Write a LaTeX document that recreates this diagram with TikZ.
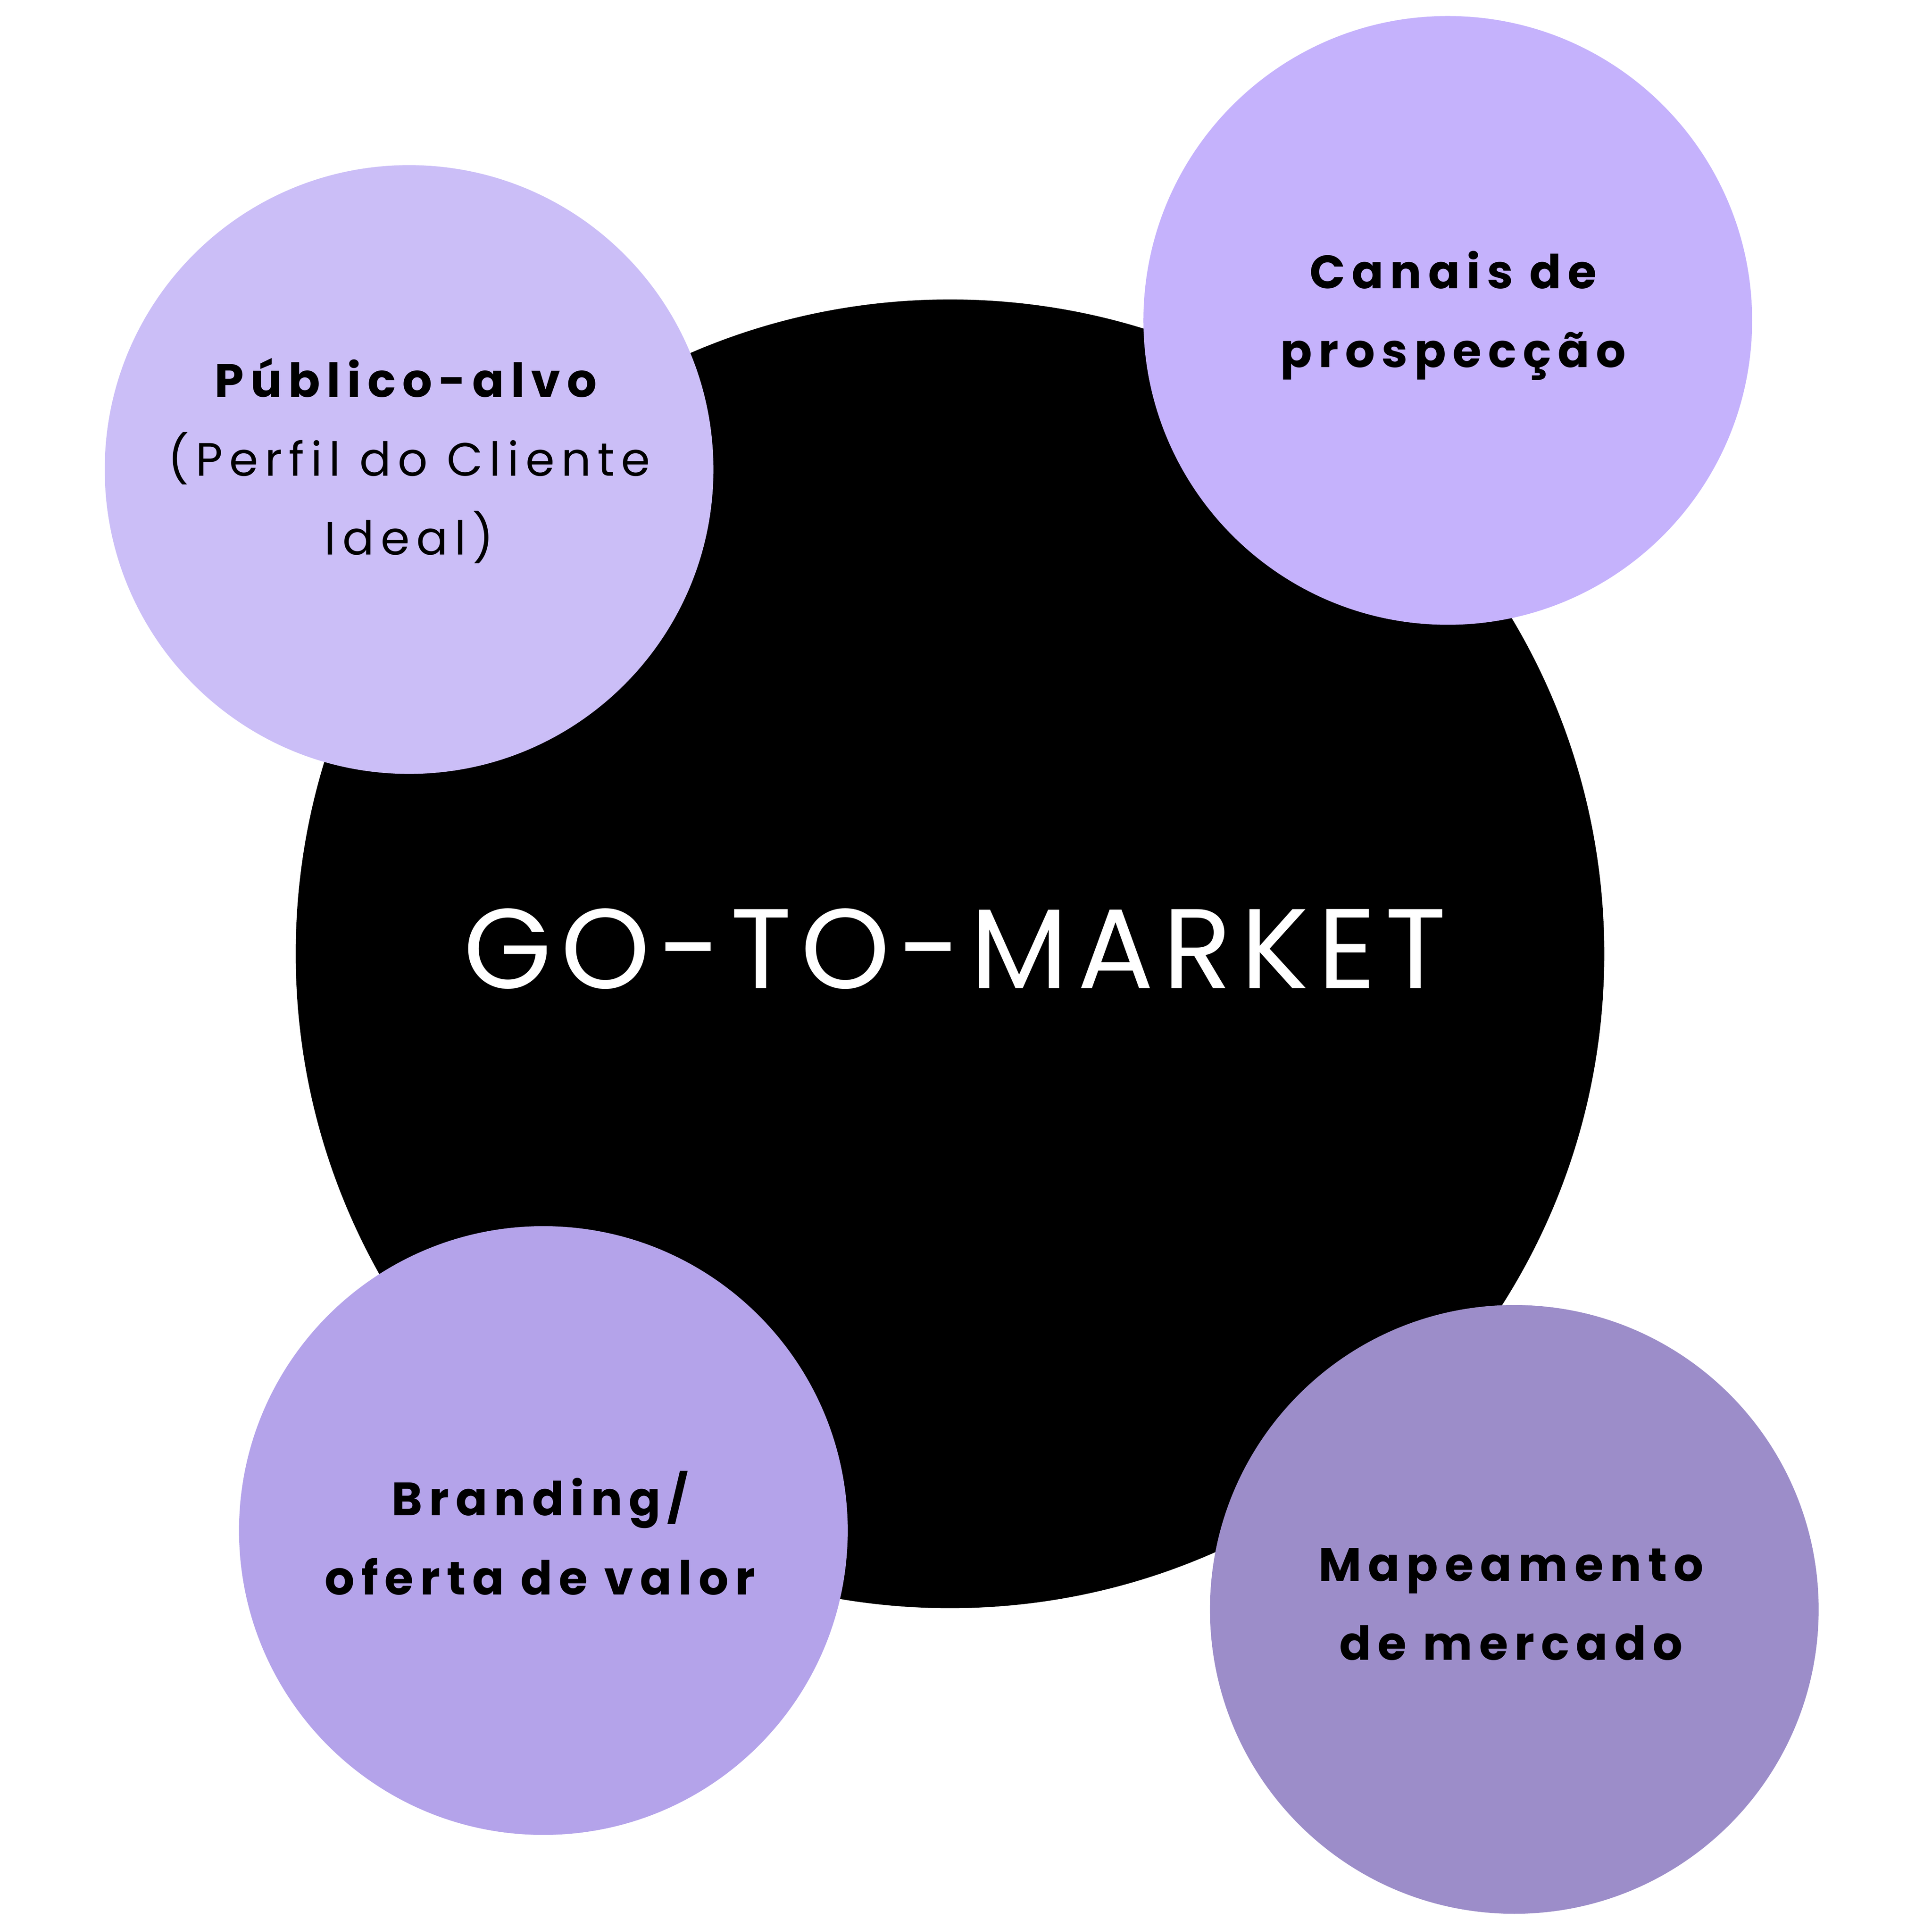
\documentclass[tikz,border=0pt]{standalone}
\usepackage{fontspec}
\setmainfont{Poppins}
\newfontfamily\gtmlabel[LetterSpace=14]{Poppins}
\newfontfamily\gtmtitle[LetterSpace=8]{Poppins}
\definecolor{publico color}{HTML}{CBBEF7}
\definecolor{canais color}{HTML}{C5B2FC}
\definecolor{branding color}{HTML}{B4A3EA}
\definecolor{mapa color}{HTML}{9C8DC9}
\tikzset{
    x={1pt},
    y={-1pt},
    core circle/.style={
        circle, fill=black,
        minimum size={1062},
        inner sep=0pt,
    },
    topic circle/.style={
        circle, fill={#1},
        minimum size={494},
        inner sep=0pt,
    },
    topic text/.style={
        align=center,
        font={\gtmlabel\fontsize{38}{64}\selectfont},
    },
}
\begin{document}
\begin{tikzpicture}
% canvas
\useasboundingbox (0,0) rectangle (1568,1564.5);
\fill[white] (0,0) rectangle (1568,1564.5);
% core
\node[core circle] (core) at (771,774) {};
\node[font={\gtmtitle\fontsize{92}{110}\selectfont\color{white}}] (title) at (775,770) {GO-TO-MARKET};
% topics
\node[topic circle={publico color}] (publico) at (332,381) {};
\node[topic circle={canais color}] (canais) at (1175,260) {};
\node[topic circle={branding color}] (branding) at (441,1242) {};
\node[topic circle={mapa color}] (mapa) at (1229,1306) {};
% labels
\node[topic text] (publico text) at (332,374) {\textbf{Público-alvo}\\(Perfil do Cliente\\Ideal)};
\node[topic text] (canais text) at (1182,256) {\textbf{Canais de}\\\textbf{prospecção}};
\node[topic text] (branding text) at (441,1244) {\textbf{Branding/}\\\textbf{oferta de valor}};
\node[topic text] (mapa text) at (1229,1302) {\textbf{Mapeamento}\\\textbf{de mercado}};
\end{tikzpicture}
\end{document}
